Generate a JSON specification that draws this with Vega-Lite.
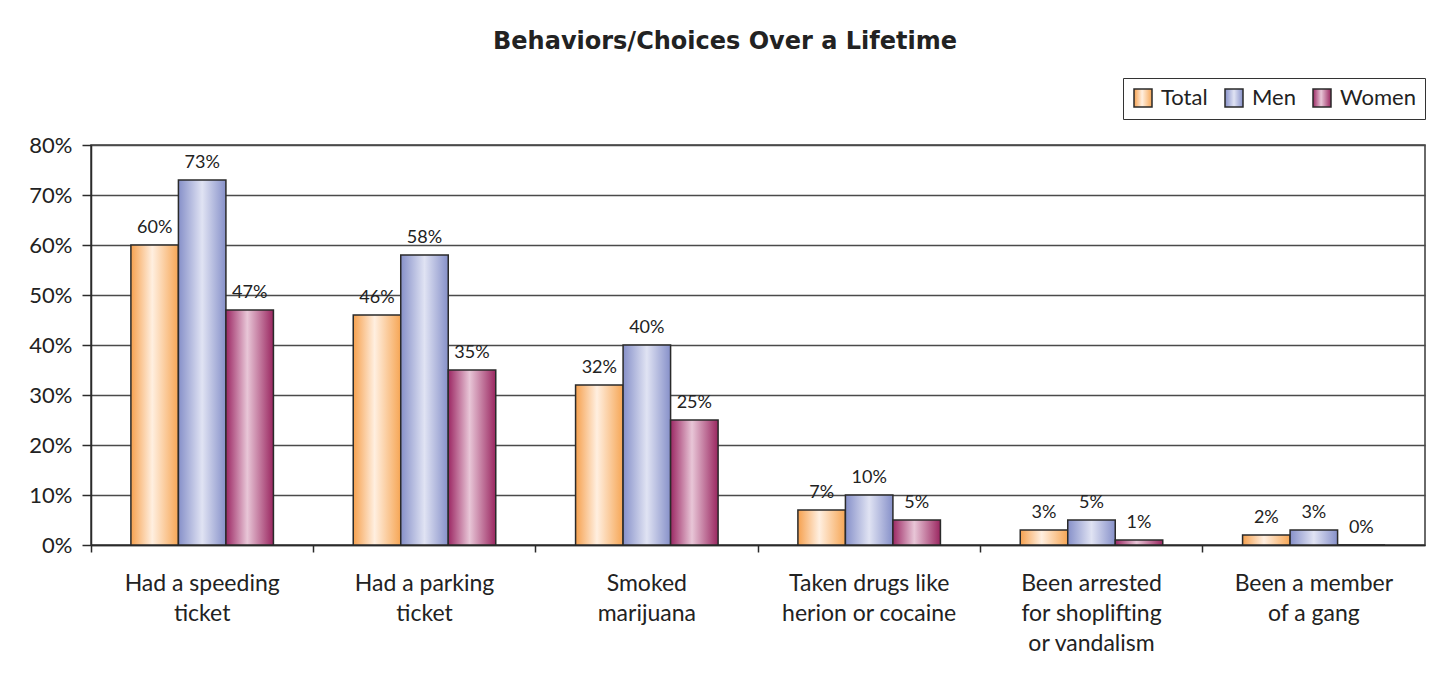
{
  "$schema": "https://vega.github.io/schema/vega-lite/v6.json",
  "width": 1334,
  "height": 400,
  "autosize": {"type": "none"},
  "padding": {"left": 91, "top": 145, "right": 17, "bottom": 130},
  "background": "white",
  "title": {
    "text": "Behaviors/Choices Over a Lifetime",
    "anchor": "middle",
    "frame": "group",
    "dx": -33,
    "font": "DejaVu Sans",
    "fontSize": 24,
    "fontWeight": "bold",
    "color": "#222222",
    "offset": 24
  },
  "config": {
    "font": "Lato",
    "view": {"stroke": "#3a3a3a", "strokeWidth": 1.5},
    "axis": {
      "labelFont": "Lato",
      "labelFontSize": 22,
      "labelColor": "#222222",
      "domainColor": "#2a2a2a",
      "domainWidth": 1.5,
      "tickColor": "#2a2a2a",
      "tickWidth": 1.5,
      "title": null
    }
  },
  "data": {
    "values": [
      {"category": "Had a speeding ticket", "series": "Total", "share": 0.60},
      {"category": "Had a speeding ticket", "series": "Men", "share": 0.73},
      {"category": "Had a speeding ticket", "series": "Women", "share": 0.47},
      {"category": "Had a parking ticket", "series": "Total", "share": 0.46},
      {"category": "Had a parking ticket", "series": "Men", "share": 0.58},
      {"category": "Had a parking ticket", "series": "Women", "share": 0.35},
      {"category": "Smoked marijuana", "series": "Total", "share": 0.32},
      {"category": "Smoked marijuana", "series": "Men", "share": 0.40},
      {"category": "Smoked marijuana", "series": "Women", "share": 0.25},
      {"category": "Taken drugs like herion or cocaine", "series": "Total", "share": 0.07},
      {"category": "Taken drugs like herion or cocaine", "series": "Men", "share": 0.10},
      {"category": "Taken drugs like herion or cocaine", "series": "Women", "share": 0.05},
      {"category": "Been arrested for shoplifting or vandalism", "series": "Total", "share": 0.03},
      {"category": "Been arrested for shoplifting or vandalism", "series": "Men", "share": 0.05},
      {"category": "Been arrested for shoplifting or vandalism", "series": "Women", "share": 0.01},
      {"category": "Been a member of a gang", "series": "Total", "share": 0.02},
      {"category": "Been a member of a gang", "series": "Men", "share": 0.03},
      {"category": "Been a member of a gang", "series": "Women", "share": 0.00}
    ]
  },
  "encoding": {
    "x": {
      "field": "category",
      "type": "nominal",
      "sort": [
        "Had a speeding ticket",
        "Had a parking ticket",
        "Smoked marijuana",
        "Taken drugs like herion or cocaine",
        "Been arrested for shoplifting or vandalism",
        "Been a member of a gang"
      ],
      "scale": {"paddingInner": 0, "paddingOuter": 0},
      "axis": {
        "bandPosition": 0,
        "labelAngle": 0,
        "labelAlign": "center",
        "labelBaseline": "top",
        "labelFontSize": 23,
        "labelLineHeight": 30,
        "labelPadding": 20,
        "tickSize": 7,
        "labelExpr": "datum.value === 'Had a speeding ticket' ? ['Had a speeding', 'ticket'] : datum.value === 'Had a parking ticket' ? ['Had a parking', 'ticket'] : datum.value === 'Smoked marijuana' ? ['Smoked', 'marijuana'] : datum.value === 'Taken drugs like herion or cocaine' ? ['Taken drugs like', 'herion or cocaine'] : datum.value === 'Been arrested for shoplifting or vandalism' ? ['Been arrested', 'for shoplifting', 'or vandalism'] : ['Been a member', 'of a gang']"
      }
    },
    "xOffset": {
      "field": "series",
      "type": "nominal",
      "sort": ["Total", "Men", "Women"],
      "scale": {"paddingInner": 0, "paddingOuter": 0.84}
    },
    "y": {
      "field": "share",
      "type": "quantitative",
      "scale": {"domain": [0, 0.8], "nice": false},
      "axis": {
        "values": [0, 0.1, 0.2, 0.3, 0.4, 0.5, 0.6, 0.7, 0.8],
        "format": ".0%",
        "tickSize": 9,
        "labelPadding": 10,
        "grid": true,
        "gridColor": "#4a4a4a",
        "gridWidth": 1.3
      }
    }
  },
  "layer": [
    {
      "mark": {"type": "bar", "stroke": "#2a2a2a", "strokeWidth": 1.5},
      "encoding": {
        "fill": {
          "field": "series",
          "type": "nominal",
          "scale": {
            "domain": ["Total", "Men", "Women"],
            "range": [
              {"expr": "{gradient: 'linear', x1: 0, y1: 0, x2: 1, y2: 0, stops: [{offset: 0, color: '#f6a14f'}, {offset: 0.45, color: '#ffefe0'}, {offset: 1, color: '#f6a655'}]}"},
              {"expr": "{gradient: 'linear', x1: 0, y1: 0, x2: 1, y2: 0, stops: [{offset: 0, color: '#8690c9'}, {offset: 0.5, color: '#e0e3f3'}, {offset: 1, color: '#8690c9'}]}"},
              {"expr": "{gradient: 'linear', x1: 0, y1: 0, x2: 1, y2: 0, stops: [{offset: 0, color: '#9c2864'}, {offset: 0.45, color: '#e8c6d7'}, {offset: 1, color: '#9a2660'}]}"}
            ]
          },
          "legend": {
            "title": null,
            "orient": "none",
            "legendX": 1032,
            "legendY": -67,
            "direction": "horizontal",
            "columns": 3,
            "columnPadding": 14,
            "padding": 9,
            "strokeColor": "#333333",
            "symbolType": "square",
            "symbolSize": 324,
            "symbolStrokeColor": "#2a2a2a",
            "symbolStrokeWidth": 1.5,
            "labelFont": "Lato",
            "labelFontSize": 22,
            "labelColor": "#222222",
            "labelOffset": 7
          }
        }
      }
    },
    {
      "mark": {
        "type": "text",
        "baseline": "bottom",
        "dy": -8,
        "font": "Lato",
        "fontSize": 18,
        "color": "#222222"
      },
      "encoding": {
        "text": {"field": "share", "type": "quantitative", "format": ".0%"}
      }
    }
  ]
}
